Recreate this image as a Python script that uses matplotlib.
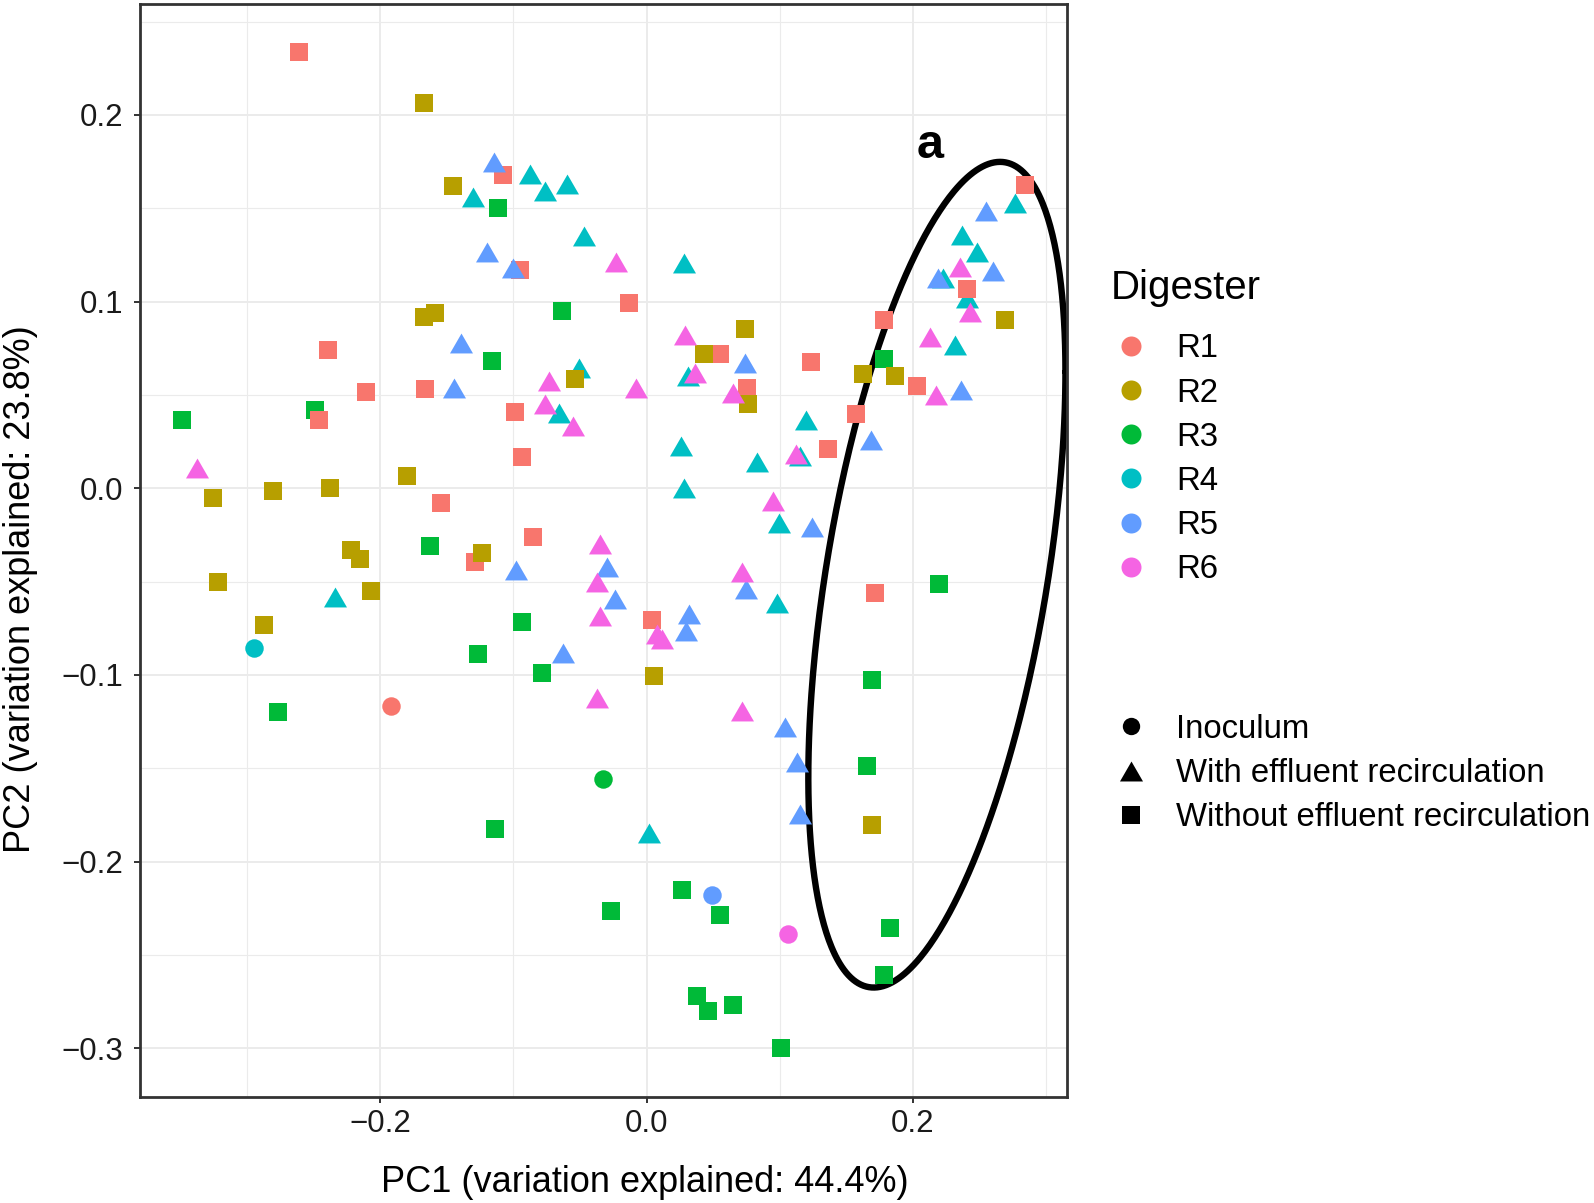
import matplotlib
matplotlib.use('Agg')
import matplotlib.pyplot as plt
from matplotlib.lines import Line2D
from matplotlib.path import Path
import numpy as np

plt.rcParams['font.family'] = ['Liberation Sans', 'DejaVu Sans']

# ---------------- data ----------------
digesters = ['R1', 'R2', 'R3', 'R4', 'R5', 'R6']
dig_colors = ['#F8766D', '#B79F00', '#00BA38', '#00BFC4', '#619CFF', '#F564E3']
shape_labels = ['Inoculum', 'With effluent recirculation', 'Without effluent recirculation']

# Without effluent recirculation (squares)
sq_pc1 = [-0.261, -0.108, -0.0947, -0.0132, -0.2394, -0.2106, -0.1667, -0.246, -0.0985, -0.0935,
          -0.1546, -0.0852, -0.129, 0.0038, 0.0553, 0.0753, 0.1235, 0.1367, 0.1573, 0.1787,
          0.2032, 0.2409, 0.2845, 0.1719,
          -0.167, -0.1455, -0.167, -0.159, -0.180, -0.326, -0.281, -0.238, -0.222, -0.215,
          -0.322, -0.207, -0.2876, -0.1233, -0.0538, 0.0432, 0.0740, 0.0765, 0.0056, 0.1625,
          0.1864, 0.2697, 0.1698,
          -0.349, -0.249, -0.1115, -0.116, -0.0636, -0.163, -0.0932, -0.1266, -0.0782, -0.2768,
          -0.114, 0.0269, -0.0268, 0.0552, 0.0378, 0.0465, 0.0648, 0.1011, 0.1786, 0.2195,
          0.1694, 0.1656, 0.1832, 0.1786]
sq_pc2 = [0.2335, 0.168, 0.117, 0.0993, 0.0742, 0.0514, 0.053, 0.0365, 0.0406, 0.0165,
          -0.0079, -0.0261, -0.0396, -0.0703, 0.0719, 0.0538, 0.0678, 0.0209, 0.0397, 0.090,
          0.0549, 0.1069, 0.1626, -0.056,
          0.2065, 0.162, 0.092, 0.094, 0.0066, -0.005, -0.0016, 0.000, -0.0333, -0.038,
          -0.050, -0.0548, -0.0735, -0.0347, 0.0585, 0.0719, 0.0853, 0.0449, -0.1007, 0.061,
          0.0603, 0.090, -0.1803,
          0.0366, 0.042, 0.1504, 0.0683, 0.0951, -0.031, -0.0717, -0.0888, -0.099, -0.120,
          -0.1827, -0.2154, -0.2265, -0.2286, -0.2721, -0.2801, -0.2766, -0.2998, 0.0693, -0.0515,
          -0.1027, -0.1487, -0.2354, -0.2608]
sq_dig = ['R1'] * 24 + ['R2'] * 23 + ['R3'] * 24

# With effluent recirculation (triangles)
tri_pc1 = [-0.0877, -0.1303, -0.0765, -0.0596, -0.0468, 0.0284, -0.0506, -0.0657, 0.0314, 0.0259,
           0.0282, 0.0828, 0.1197, 0.1154, 0.0999, 0.0979, -0.2337, 0.0021, 0.2772, 0.2371,
           0.2483, 0.2228, 0.2409, 0.232,
           -0.1146, -0.1195, -0.1002, -0.1396, -0.145, 0.074, -0.0982, -0.030, -0.0237, 0.0748,
           0.032, 0.0297, -0.0626, 0.1686, 0.2363, 0.1242, 0.1042, 0.1134, 0.1155, 0.2554,
           0.219, 0.2604,
           -0.338, -0.0232, 0.0289, -0.0731, -0.008, 0.0365, 0.0652, -0.0764, -0.0551, 0.0948,
           0.1124, -0.035, -0.0375, -0.035, 0.0715, 0.0081, 0.0115, -0.037, 0.0715, 0.2177,
           0.2358, 0.2434, 0.2132]
tri_pc2 = [0.1685, 0.1563, 0.159, 0.163, 0.1349, 0.1206, 0.0642, 0.0404, 0.0601, 0.0227,
           0.0002, 0.0141, 0.0365, 0.0171, -0.0184, -0.0614, -0.058, -0.1848, 0.1528, 0.1357,
           0.1268, 0.1128, 0.1018, 0.0767,
           0.1746, 0.1268, 0.118, 0.0776, 0.0535, 0.0669, -0.044, -0.0422, -0.0592, -0.0539,
           -0.0676, -0.0766, -0.0882, 0.0261, 0.0526, -0.0208, -0.1281, -0.1469, -0.1746, 0.1483,
           0.1128, 0.1166,
           0.011, 0.1214, 0.0821, 0.0576, 0.0535, 0.0615, 0.0508, 0.0454, 0.0334, -0.007,
           0.0186, -0.0297, -0.0503, -0.0682, -0.045, -0.078, -0.0805, -0.1124, -0.1195, 0.0499,
           0.1188, 0.0946, 0.0812]
tri_dig = ['R4'] * 24 + ['R5'] * 22 + ['R6'] * 23

# Inoculum (circles)
ino_pc1 = [-0.1923, -0.0325, -0.2946, 0.0495, 0.1062]
ino_pc2 = [-0.1165, -0.1558, -0.0855, -0.2181, -0.2387]
ino_dig = ['R1', 'R3', 'R4', 'R5', 'R6']

# ellipse "a" (centre and shape)
ell_center = (0.2182, -0.0463)
ell_axes = ((0.0966, 0.0), (0.1087, 0.1926))   # x = cx + p cos t + q sin t ; y = cy + r cos t + s sin t
ell_label = 'a'
ell_label_pos = (0.213, 0.1837)

# ---------------- figure ----------------
W, H = 1594, 1203
fig = plt.figure(figsize=(W / 100, H / 100), dpi=100)
ax = fig.add_axes([140 / W, 1 - 1097 / H, (1066.5 - 140) / W, (1097 - 3.5) / H])

tri_path = Path([(-1, -0.866), (1, -0.866), (0, 0.866), (-1, -0.866)],
                [Path.MOVETO, Path.LINETO, Path.LINETO, Path.CLOSEPOLY])

col = dict(zip(digesters, dig_colors))
draw_order = ['R3', 'R4', 'R1', 'R2', 'R5', 'R6']
z = 3
for d in draw_order:
    xs = [x for x, g in zip(sq_pc1, sq_dig) if g == d]
    ys = [y for y, g in zip(sq_pc2, sq_dig) if g == d]
    if xs:
        ax.scatter(xs, ys, marker='s', s=168, color=col[d], linewidths=0, zorder=z)
    xs = [x for x, g in zip(tri_pc1, tri_dig) if g == d]
    ys = [y for y, g in zip(tri_pc2, tri_dig) if g == d]
    if xs:
        ax.scatter(xs, ys, marker=tri_path, s=274, color=col[d], linewidths=0, zorder=z)
    xs = [x for x, g in zip(ino_pc1, ino_dig) if g == d]
    ys = [y for y, g in zip(ino_pc2, ino_dig) if g == d]
    if xs:
        ax.scatter(xs, ys, marker='o', s=177, color=col[d], linewidths=0, zorder=z)

t = np.linspace(0, 2 * np.pi, 500)
(p, q), (r, s_) = ell_axes
ex = ell_center[0] + p * np.cos(t) + q * np.sin(t)
ey = ell_center[1] + r * np.cos(t) + s_ * np.sin(t)
ax.plot(ex, ey, color='black', lw=4.6, zorder=2, solid_capstyle='round')
ax.text(ell_label_pos[0], ell_label_pos[1], ell_label, fontsize=35, fontweight='bold',
        ha='center', va='center', zorder=5)

ax.set_xlim(-0.3806, 0.3156)
ax.set_ylim(-0.3261, 0.2597)
ax.set_xticks([-0.2, 0.0, 0.2])
ax.set_xticklabels(['\u22120.2', '0.0', '0.2'])
ax.set_yticks([-0.3, -0.2, -0.1, 0.0, 0.1, 0.2])
ax.set_yticklabels(['\u22120.3', '\u22120.2', '\u22120.1', '0.0', '0.1', '0.2'])
ax.set_xticks([-0.3, -0.1, 0.1, 0.3], minor=True)
ax.set_yticks([-0.25, -0.15, -0.05, 0.05, 0.15, 0.25], minor=True)
ax.grid(which='major', color='#EBEBEB', lw=1.4, zorder=0)
ax.grid(which='minor', color='#EBEBEB', lw=0.8, zorder=0)
ax.set_axisbelow(True)
ax.tick_params(which='minor', length=0)
ax.tick_params(axis='x', which='major', length=4, width=1.4, color='#333333', pad=4.5,
               labelsize=22.5, labelcolor='#1a1a1a')
ax.tick_params(axis='y', which='major', length=4, width=1.4, color='#333333', pad=8,
               labelsize=22.5, labelcolor='#1a1a1a')
for sp in ax.spines.values():
    sp.set_color('#333333')
    sp.set_linewidth(2.0)

ax.set_xlabel('PC1 (variation explained: 44.4%)', fontsize=26, labelpad=19)
ax.set_ylabel('PC2 (variation explained: 23.8%)', fontsize=26, labelpad=17)
ax.xaxis.label.set_x(0.5445)
ax.yaxis.label.set_y(0.464)

# legends
fig.text(1111 / W, 1 - 299 / H, 'Digester', fontsize=29, ha='left', va='baseline')
h1 = [Line2D([], [], marker='o', ls='', color=c, markersize=14.4, markeredgewidth=0)
      for c in dig_colors]
fig.legend(handles=h1, labels=digesters, loc='center left',
           bbox_to_anchor=(1111 / W, 1 - 459.3 / H), frameon=False, fontsize=23.7,
           handlelength=1.217, handletextpad=0.76, labelspacing=0.40,
           borderpad=0, borderaxespad=0)
h2 = [Line2D([], [], marker='o', ls='', color='black', markersize=12.5, markeredgewidth=0),
      Line2D([], [], marker=tri_path, ls='', color='black', markersize=16.6, markeredgewidth=0),
      Line2D([], [], marker='s', ls='', color='black', markersize=13, markeredgewidth=0)]
fig.legend(handles=h2, labels=shape_labels, loc='center left',
           bbox_to_anchor=(1111 / W, 1 - 773.6 / H), frameon=False, fontsize=23.7,
           handlelength=1.217, handletextpad=0.76, labelspacing=0.40,
           borderpad=0, borderaxespad=0)

fig.savefig('out.png', dpi=100, facecolor='white')
